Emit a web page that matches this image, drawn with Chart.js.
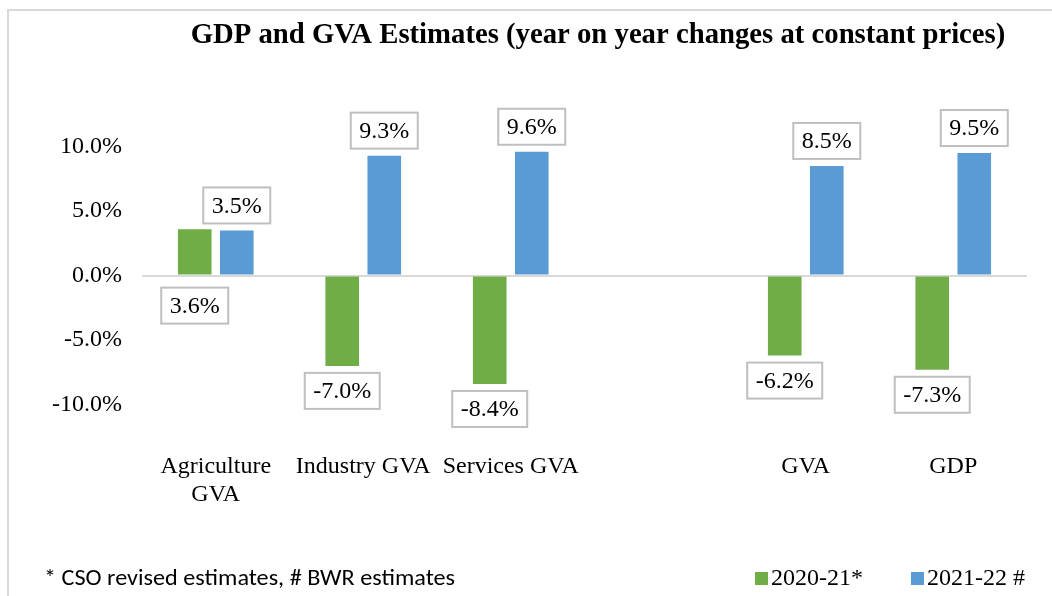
<!DOCTYPE html>
<html><head><meta charset="utf-8">
<script src="https://cdn.jsdelivr.net/npm/chart.js@4/dist/chart.umd.min.js"></script>
<style>html,body{margin:0;padding:0;background:#fff;}canvas{display:block;}</style>
</head><body>
<canvas id="c" width="1052" height="596"></canvas>
<script>
const categories = [['Agriculture', 'GVA'], 'Industry GVA', 'Services GVA', '', 'GVA', 'GDP'];
const series2020 = [3.6, -7.0, -8.4, null, -6.2, -7.3];
const series2021 = [3.5, 9.3, 9.6, null, 8.5, 9.5];
const seriesNames = ['2020-21*', '2021-22 #'];
const yTicks = [-10, -5, 0, 5, 10];
const titleText = 'GDP and GVA Estimates (year on year changes at constant prices)';
const footnoteText = '* CSO revised estimates, # BWR estimates';

const SERIF = '"Liberation Serif", "Times New Roman", serif';
const SANS = 'Carlito, Lato, "Liberation Sans", sans-serif';

function fitFont(ctx, text, weight, family, targetW) {
  ctx.font = weight + ' 20px ' + family;
  const w = ctx.measureText(text).width;
  return weight + ' ' + (20 * targetW / w).toFixed(2) + 'px ' + family;
}

function drawFitted(ctx, text, font, x, y, targetW) {
  ctx.font = font;
  const w = ctx.measureText(text).width;
  ctx.save();
  ctx.translate(x, y);
  ctx.scale(targetW / w, 1);
  ctx.fillText(text, 0, 0);
  ctx.restore();
}

const framePlugin = {
  id: 'frame',
  beforeDraw(chart) {
    const ctx = chart.ctx;
    ctx.save();
    ctx.fillStyle = '#fff';
    ctx.fillRect(0, 0, chart.width, chart.height);
    ctx.strokeStyle = '#d9d9d9';
    ctx.lineWidth = 2;
    ctx.beginPath();
    ctx.moveTo(8, chart.height + 5);
    ctx.lineTo(8, 10);
    ctx.lineTo(chart.width + 5, 10);
    ctx.stroke();
    ctx.restore();
  },
  afterDraw(chart) {
    const ctx = chart.ctx;
    ctx.save();
    ctx.fillStyle = '#000';
    ctx.textBaseline = 'middle';
    // title
    ctx.textAlign = 'center';
    ctx.font = fitFont(ctx, titleText, 'bold', SERIF, 815);
    ctx.fillText(titleText, 598, 36);
    // footnote
    ctx.textAlign = 'left';
    drawFitted(ctx, footnoteText, '22px ' + SANS, 44, 579, 411);
    // legend
    const legendX = [755, 911];
    ctx.font = '24px ' + SERIF;
    chart.data.datasets.forEach((ds, i) => {
      ctx.fillStyle = ds.backgroundColor;
      ctx.fillRect(legendX[i], 572, 13, 13);
      ctx.fillStyle = '#000';
      ctx.fillText(ds.label, legendX[i] + 16, 579);
    });
    ctx.restore();
  }
};

const labelPlugin = {
  id: 'boxLabels',
  afterDatasetsDraw(chart, args, opts) {
    const ctx = chart.ctx;
    const y0 = chart.scales.y.getPixelForValue(0);
    ctx.save();
    ctx.font = '24px ' + SERIF;
    ctx.textAlign = 'center';
    ctx.textBaseline = 'middle';
    chart.data.datasets.forEach((ds, di) => {
      const meta = chart.getDatasetMeta(di);
      meta.data.forEach((bar, i) => {
        const v = ds.data[i];
        if (v === null || v === undefined) return;
        const txt = v.toFixed(1) + '%';
        const w = Math.round(ctx.measureText(txt).width + 17);
        const h = 36;
        const below = (opts.belowBase || []).some(p => p[0] === di && p[1] === i);
        let top;
        if (below) top = y0 + 12;
        else if (v >= 0) top = bar.y - 7 - h;
        else top = bar.y + 7;
        const left = bar.x - w / 2;
        ctx.fillStyle = '#fff';
        ctx.fillRect(left, top, w, h);
        ctx.strokeStyle = '#bfbfbf';
        ctx.lineWidth = 2;
        ctx.strokeRect(left, top, w, h);
        ctx.fillStyle = '#000';
        ctx.fillText(txt, bar.x, top + h / 2 + 1);
      });
    });
    ctx.restore();
  }
};

new Chart(document.getElementById('c'), {
  type: 'bar',
  data: {
    labels: categories,
    datasets: [
      { label: seriesNames[0], data: series2020, backgroundColor: '#70ad47', borderWidth: 0,
        categoryPercentage: 0.57, barPercentage: 0.8 },
      { label: seriesNames[1], data: series2021, backgroundColor: '#5b9bd5', borderWidth: 0,
        categoryPercentage: 0.57, barPercentage: 0.8 }
    ]
  },
  options: {
    responsive: false,
    animation: false,
    devicePixelRatio: 1,
    layout: { padding: { left: 0, right: 25, top: 95, bottom: 62.7 } },
    plugins: {
      legend: { display: false },
      title: { display: false },
      tooltip: { enabled: false },
      boxLabels: { belowBase: [[0, 0]] }
    },
    scales: {
      x: {
        afterFit: s => { s.height = 90; },
        grid: { display: false },
        border: { display: false },
        ticks: { padding: 2, color: '#000', maxRotation: 0, autoSkip: false,
          font: { family: SERIF, size: 24, lineHeight: 1.15 } }
      },
      y: {
        min: -13, max: 14,
        afterBuildTicks: s => { s.ticks = yTicks.map(v => ({ value: v })); },
        afterFit: s => { s.width = 142; },
        border: { display: false },
        grid: { drawTicks: false, lineWidth: 2,
          color: c => (c.tick && c.tick.value === 0) ? '#d9d9d9' : 'rgba(0,0,0,0)' },
        ticks: { padding: 20, color: '#000', font: { family: SERIF, size: 24 },
          callback: v => Number(v).toFixed(1) + '%' }
      }
    }
  },
  plugins: [framePlugin, labelPlugin]
});
</script>
</body></html>
